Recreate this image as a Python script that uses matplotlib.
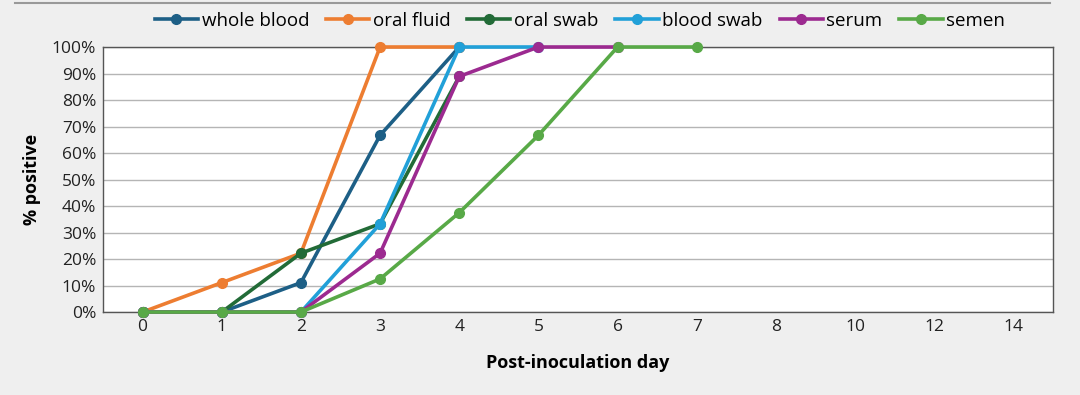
import numpy as np
import matplotlib.pyplot as plt
from matplotlib.lines import Line2D

plt.rcParams['font.family'] = ['Open Sans', 'DejaVu Sans']

days = ['0', '1', '2', '3', '4', '5', '6', '7', '8', '10', '12', '14']

whole_blood = [0, 0, 11.1, 66.7, 100]
oral_fluid = [0, 11.1, 22.2, 100, 100]
oral_swab = [0, 0, 22.2, 33.3, 88.9]
blood_swab = [0, 0, 0, 33.3, 100, 100]
serum = [0, 0, 0, 22.2, 88.9, 100, 100]
semen = [0, 0, 0, 12.5, 37.5, 66.7, 100, 100]

series = [
    ('whole blood', whole_blood, '#1d5f86'),
    ('oral fluid', oral_fluid, '#ed7d31'),
    ('oral swab', oral_swab, '#226b37'),
    ('blood swab', blood_swab, '#21a0d8'),
    ('serum', serum, '#9c2a90'),
    ('semen', semen, '#58a947'),
]

bg = '#efefef'
fig = plt.figure(figsize=(10.8, 3.95), dpi=100, facecolor=bg)
ax = fig.add_axes([0.0954, 0.21, 0.8796, 0.671])
ax.set_facecolor('white')

for name, vals, col in series:
    x = np.arange(len(vals))
    ax.plot(x, vals, color=col, lw=2.6, marker='o', ms=7, label=name,
            solid_capstyle='round', clip_on=False, zorder=3)

ax.set_xlim(-0.5, len(days) - 0.5)
ax.set_ylim(0, 100)
ax.set_xticks(np.arange(len(days)))
ax.set_xticklabels(days)
ax.set_yticks(np.arange(0, 101, 10))
ax.set_yticklabels([f'{v}%' for v in range(0, 101, 10)])
ax.tick_params(axis='both', length=0, labelsize=12.5, colors='#222222', pad=5)
ax.grid(axis='y', color='#b5b5b5', lw=1.0)
ax.set_axisbelow(True)
for s in ax.spines.values():
    s.set_color('#555555')
    s.set_linewidth(1.0)

ax.set_ylabel('% positive', fontsize=13, fontweight='bold', labelpad=8)
ax.set_xlabel('Post-inoculation day', fontsize=13, fontweight='bold', labelpad=14)

handles = [Line2D([0], [0], color=c, lw=2.6, marker='o', ms=7) for _, _, c in series]
fig.legend(handles, [n for n, _, _ in series], loc='center', bbox_to_anchor=(0.537, 0.948),
           ncol=6, frameon=False, fontsize=13.5, handlelength=2.3, handletextpad=0.2,
           columnspacing=0.9)

fig.add_artist(Line2D([0.014, 0.972], [0.992, 0.992], color='#999999', lw=1.5,
                      transform=fig.transFigure))

fig.savefig('out.png', dpi=100, facecolor=bg)
